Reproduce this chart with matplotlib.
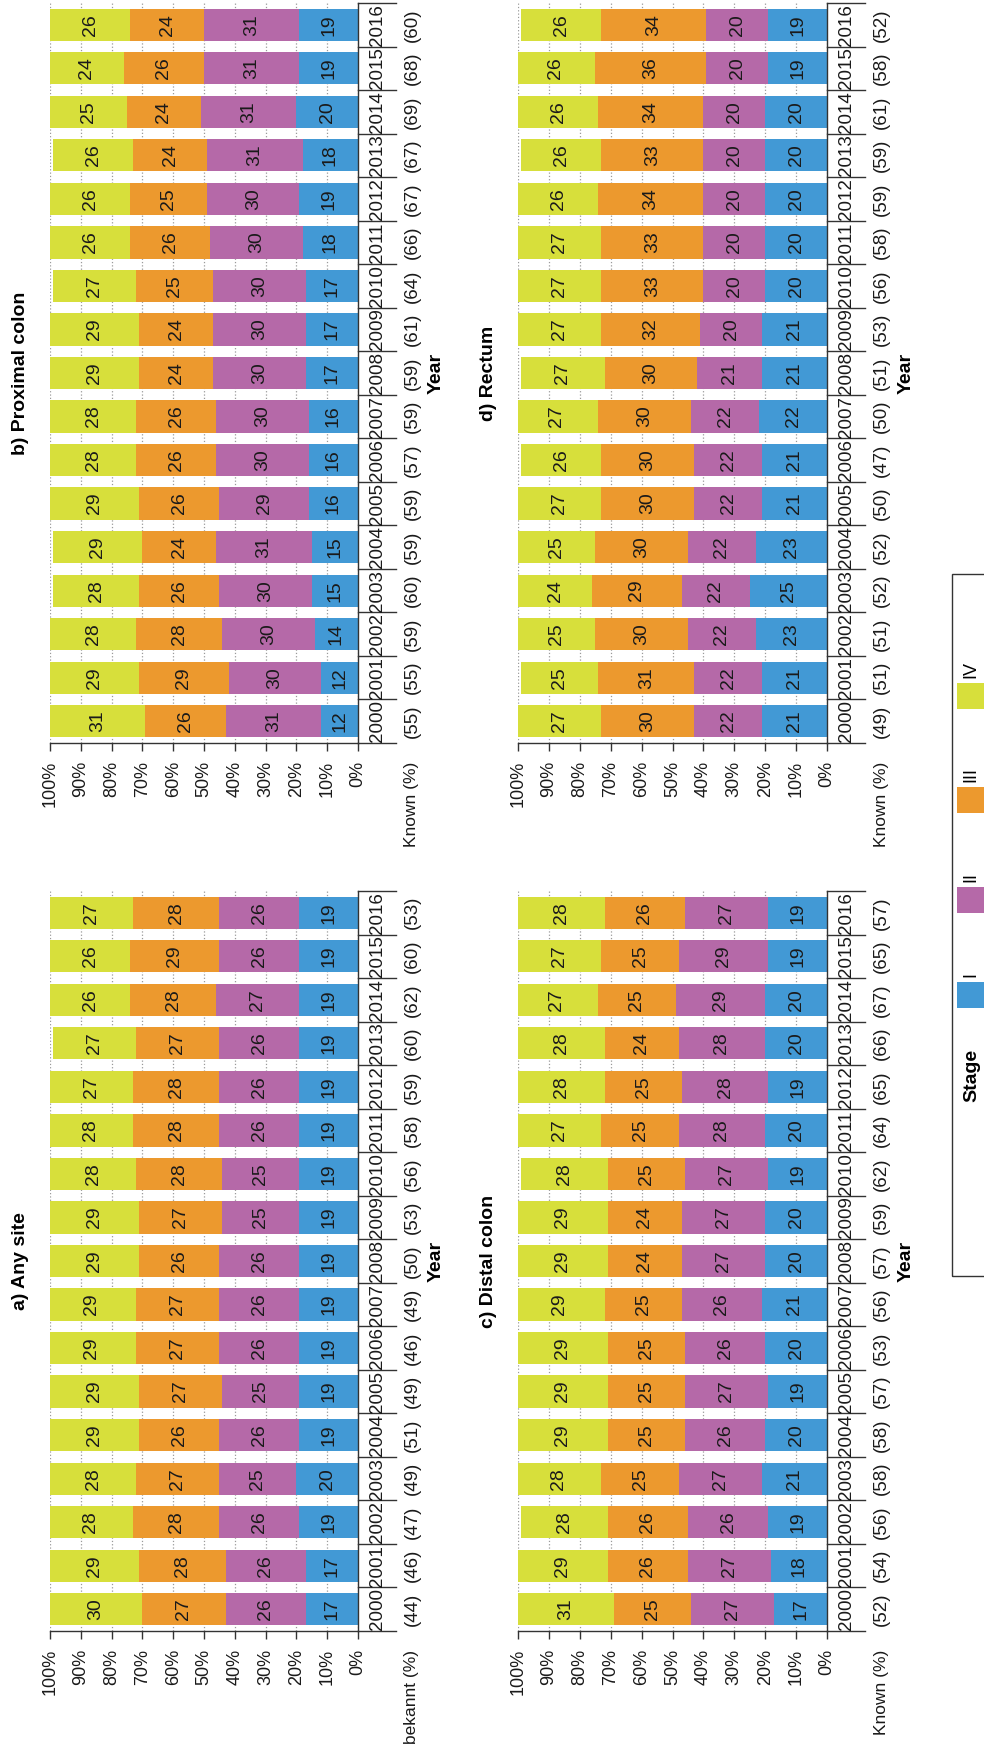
import matplotlib
matplotlib.use("Agg")
import matplotlib.pyplot as plt
from matplotlib.patches import Rectangle
from matplotlib.transforms import blended_transform_factory

plt.rcParams['font.family'] = ['Liberation Sans', 'DejaVu Sans']

# 年份与分期
years = list(range(2000, 2017))
stages = ['I', 'II', 'III', 'IV']
stage_colors = ['#4299d5', '#b569a8', '#ec992e', '#d7df3b']

# a) Any site
any_I = [17, 17, 19, 20, 19, 19, 19, 19, 19, 19, 19, 19, 19, 19, 19, 19, 19]
any_II = [26, 26, 26, 25, 26, 25, 26, 26, 26, 25, 25, 26, 26, 26, 27, 26, 26]
any_III = [27, 28, 28, 27, 26, 27, 27, 27, 26, 27, 28, 28, 28, 27, 28, 29, 28]
any_IV = [30, 29, 28, 28, 29, 29, 29, 29, 29, 29, 28, 28, 27, 27, 26, 26, 27]
any_known = [44, 46, 47, 49, 51, 49, 46, 49, 50, 53, 56, 58, 59, 60, 62, 60, 53]

# b) Proximal colon
prox_I = [12, 12, 14, 15, 15, 16, 16, 16, 17, 17, 17, 18, 19, 18, 20, 19, 19]
prox_II = [31, 30, 30, 30, 31, 29, 30, 30, 30, 30, 30, 30, 30, 31, 31, 31, 31]
prox_III = [26, 29, 28, 26, 24, 26, 26, 26, 24, 24, 25, 26, 25, 24, 24, 26, 24]
prox_IV = [31, 29, 28, 28, 29, 29, 28, 28, 29, 29, 27, 26, 26, 26, 25, 24, 26]
prox_known = [55, 55, 59, 60, 59, 59, 57, 59, 59, 61, 64, 66, 67, 67, 69, 68, 60]

# c) Distal colon
dist_I = [17, 18, 19, 21, 20, 19, 20, 21, 20, 20, 19, 20, 19, 20, 20, 19, 19]
dist_II = [27, 27, 26, 27, 26, 27, 26, 26, 27, 27, 27, 28, 28, 28, 29, 29, 27]
dist_III = [25, 26, 26, 25, 25, 25, 25, 25, 24, 24, 25, 25, 25, 24, 25, 25, 26]
dist_IV = [31, 29, 28, 28, 29, 29, 29, 29, 29, 29, 28, 27, 28, 28, 27, 27, 28]
dist_known = [52, 54, 56, 58, 58, 57, 53, 56, 57, 59, 62, 64, 65, 66, 67, 65, 57]

# d) Rectum
rect_I = [21, 21, 23, 25, 23, 21, 21, 22, 21, 21, 20, 20, 20, 20, 20, 19, 19]
rect_II = [22, 22, 22, 22, 22, 22, 22, 22, 21, 20, 20, 20, 20, 20, 20, 20, 20]
rect_III = [30, 31, 30, 29, 30, 30, 30, 30, 30, 32, 33, 33, 34, 33, 34, 36, 34]
rect_IV = [27, 25, 25, 24, 25, 27, 26, 27, 27, 27, 27, 27, 26, 26, 26, 26, 26]
rect_known = [49, 51, 51, 52, 52, 50, 47, 50, 51, 53, 56, 58, 59, 59, 61, 58, 52]

W, H = 984, 1747


def px(x, y):
    # 像素坐标(左上为原点) -> figure 坐标
    return x / W, 1 - y / H


def draw_panel(ax, series, known, title, known_label):
    trans = blended_transform_factory(ax.transAxes, ax.transData)
    pos = list(range(len(years)))
    left = [0] * len(years)
    for vals, col in zip(series, stage_colors):
        ax.barh(pos, vals, left=left, height=0.74, color=col, zorder=2)
        for i, v in enumerate(vals):
            ax.text(left[i] + v / 2, i, str(v), rotation=90, ha='center',
                    va='center', fontsize=14, color='#1a1a1a', zorder=3)
        left = [l + v for l, v in zip(left, vals)]

    ax.set_xlim(100, 0)
    ax.set_ylim(-0.5, len(years) - 0.5)
    ax.set_xticks(range(0, 101, 10))
    ax.set_xticklabels([f'{t}%' for t in range(0, 101, 10)])
    ax.tick_params(axis='x', labelrotation=90, labelsize=13, length=6,
                   width=1, pad=7, color='#333333', labelcolor='#1a1a1a')
    ax.set_yticks([])
    ax.grid(axis='x', linestyle=':', color='#9a9a9a', linewidth=0.9, zorder=0)
    ax.set_axisbelow(True)
    for s in ['left', 'top']:
        ax.spines[s].set_visible(False)
    for s in ['right', 'bottom']:
        ax.spines[s].set_color('#333333')
        ax.spines[s].set_linewidth(1.0)

    # 年份表格
    x_end = 1.123
    for b in range(len(years) + 1):
        ax.plot([1, x_end], [b - 0.5, b - 0.5], transform=trans,
                color='#333333', lw=1.0, clip_on=False)
    for i, (yr, k) in enumerate(zip(years, known)):
        ax.text(1.062, i, str(yr), transform=trans, rotation=90,
                ha='center', va='center', fontsize=13.5, color='#1a1a1a')
        ax.text(1.175, i, f'({k})', transform=trans, rotation=90,
                ha='center', va='center', fontsize=13.5, color='#1a1a1a')
    ax.text(1.175, -0.026, known_label, transform=ax.transAxes, rotation=90,
            ha='center', va='top', fontsize=12.5, color='#1a1a1a')
    ax.text(1.255, 0.5, 'Year', transform=ax.transAxes, rotation=90,
            ha='center', va='center', fontsize=14, fontweight='bold')
    ax.text(-0.095, 0.5, title, transform=ax.transAxes, rotation=90,
            ha='center', va='center', fontsize=14, fontweight='bold')


fig = plt.figure(figsize=(W / 100, H / 100), dpi=100)
ax_b = fig.add_axes([50 / W, 1 - 743 / H, 308 / W, 740 / H])
ax_d = fig.add_axes([518 / W, 1 - 743 / H, 309 / W, 740 / H])
ax_a = fig.add_axes([50 / W, 1 - 1631 / H, 308 / W, 740 / H])
ax_c = fig.add_axes([518 / W, 1 - 1631 / H, 309 / W, 740 / H])

draw_panel(ax_a, [any_I, any_II, any_III, any_IV], any_known,
           'a) Any site', 'bekannt (%)')
draw_panel(ax_b, [prox_I, prox_II, prox_III, prox_IV], prox_known,
           'b) Proximal colon', 'Known (%)')
draw_panel(ax_c, [dist_I, dist_II, dist_III, dist_IV], dist_known,
           'c) Distal colon', 'Known (%)')
draw_panel(ax_d, [rect_I, rect_II, rect_III, rect_IV], rect_known,
           'd) Rectum', 'Known (%)')

# 图例
x0, y0 = px(952, 1276)
x1, y1 = px(1000, 574)
fig.add_artist(Rectangle((x0, y0), x1 - x0, y1 - y0, transform=fig.transFigure,
                         fill=False, edgecolor='#333333', lw=1.0))
sx, sy = px(972, 1075)
fig.text(sx, sy, 'Stage', rotation=90, ha='center', va='center',
         fontsize=14, fontweight='bold')
patch_centers = [995, 900, 800, 696]
for lab, col, cy in zip(stages, stage_colors, patch_centers):
    ax0, ay0 = px(957, cy + 13)
    ax1, ay1 = px(990, cy - 13)
    fig.add_artist(Rectangle((ax0, ay0), ax1 - ax0, ay1 - ay0,
                             transform=fig.transFigure, color=col, lw=0))
    tx, ty = px(971, cy - 18)
    fig.text(tx, ty, lab, rotation=90, ha='center', va='bottom', fontsize=13)

fig.savefig('out.png', dpi=100)
